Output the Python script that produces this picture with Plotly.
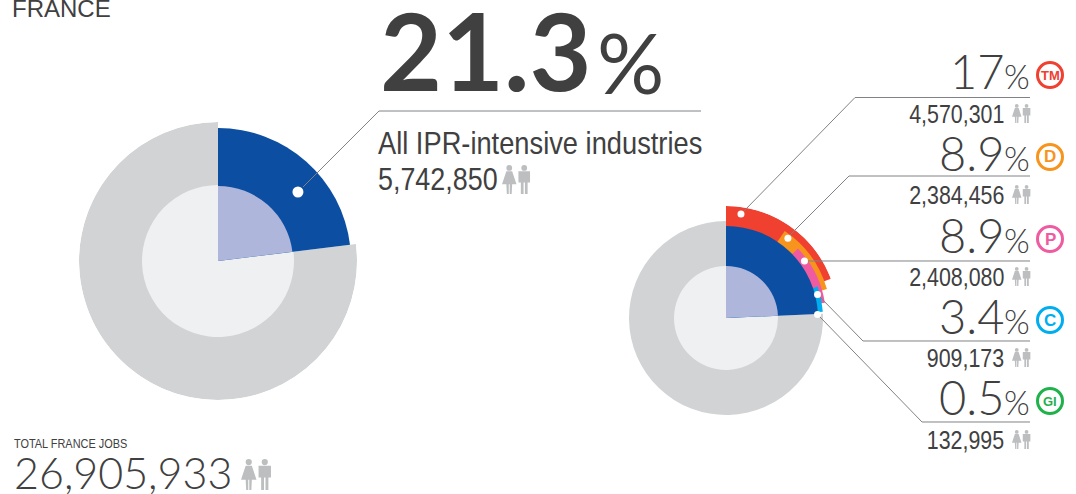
import plotly.graph_objects as go

W, H = 1076, 494

# ---- data ----
main_pct = "21.3"
main_label = "All IPR-intensive industries"
main_jobs = "5,742,850"
total_label = "TOTAL FRANCE JOBS"
total_jobs = "26,905,933"
country = "FRANCE"

categories = ["TM", "D", "P", "C", "GI"]
pcts = ["17", "8.9", "8.9", "3.4", "0.5"]
jobs = ["4,570,301", "2,384,456", "2,408,080", "909,173", "132,995"]

left_sweep = 83
right_sweep = 87.5
wedge_start = [0, 34, 46, 71]
wedge_end = [69.5, 74, 81.3, 86.3]
wedge_outer = [112, 105, 100, 97]

dots_theta = [8.2, 37.8, 54, 75.6, 87.8]
dots_r = [105, 101, 97, 94.5, 91.6]

# ---- styles ----
GREY, LIGHT, BLUE, PALE = "#d1d3d4", "#eef0f2", "#0b4ea2", "#aeb6dc"
COLORS = ["#f04030", "#f7941d", "#ef5ba1", "#00aeef", "#1fb24b"]
INK, ICON, LINE = "#404041", "#bcbec0", "#808285"
NARROW = "Liberation Sans Narrow, Liberation Sans, Arial"
LIGHTF = "Lato"


def px(x):
    return x / W


def py(y):
    return 1 - y / H


def domain(cx, cy, r):
    return dict(x=[px(cx - r), px(cx + r)], y=[py(cy + r), py(cy - r)])


def sector(a, b, r, color, sub, base=0):
    return go.Barpolar(r=[r - base], base=[base], theta=[(a + b) / 2], width=[b - a],
                       marker=dict(color=color, line=dict(width=0)), subplot=sub,
                       hoverinfo="skip", showlegend=False)


fig = go.Figure()
# left disc
fig.add_trace(sector(left_sweep, 360, 139, GREY, "polar"))
fig.add_trace(sector(left_sweep, 360, 76, LIGHT, "polar"))
fig.add_trace(sector(0, left_sweep, 133, BLUE, "polar"))
fig.add_trace(sector(0, left_sweep, 75, PALE, "polar"))
fig.add_trace(go.Scatterpolar(r=[105.6], theta=[49.2], mode="markers", subplot="polar",
                              marker=dict(color="white", size=11), hoverinfo="skip", showlegend=False))
# right disc
fig.add_trace(sector(right_sweep, 360, 97, GREY, "polar2"))
fig.add_trace(sector(right_sweep, 360, 52, LIGHT, "polar2"))
for a, b, r, c in zip(wedge_start, wedge_end, wedge_outer, COLORS):
    fig.add_trace(sector(a, b, r, c, "polar2"))
fig.add_trace(sector(0, right_sweep, 92, BLUE, "polar2"))
fig.add_trace(sector(0, right_sweep, 52, PALE, "polar2"))
fig.add_trace(go.Scatterpolar(r=dots_r, theta=dots_theta, mode="markers", subplot="polar2",
                              marker=dict(color="white", size=7), hoverinfo="skip", showlegend=False))

polar_common = dict(
    bgcolor="rgba(0,0,0,0)", barmode="overlay",
    angularaxis=dict(visible=False, direction="clockwise", rotation=90),
)
annotations, shapes = [], []


def text(x, y, s, size, anchor="left", family=NARROW, color=INK, weight=None):
    f = dict(size=size, family=family, color=color)
    if weight:
        f["weight"] = weight
    annotations.append(dict(x=px(x), y=py(y), xref="paper", yref="paper", text=s, showarrow=False,
                            xanchor=anchor, yanchor="middle", font=f, borderpad=0, borderwidth=0))


def polyline(points, color=LINE, width=1):
    path = "M " + " L ".join(f"{px(x):.5f} {py(y):.5f}" for x, y in points)
    shapes.append(dict(type="path", path=path, xref="paper", yref="paper",
                       line=dict(color=color, width=width)))


def poly(points, color=ICON):
    path = "M " + " L ".join(f"{px(x):.5f} {py(y):.5f}" for x, y in points) + " Z"
    shapes.append(dict(type="path", path=path, xref="paper", yref="paper", fillcolor=color,
                       line=dict(width=0)))


def disc(cx, cy, r, fill=ICON, line=None, lw=0):
    shapes.append(dict(type="circle", xref="paper", yref="paper", x0=px(cx - r), x1=px(cx + r),
                       y0=py(cy + r), y1=py(cy - r), fillcolor=fill,
                       line=dict(color=line or fill, width=lw)))


def people(x, y, h):
    """Woman + man pictogram; x,y top-left, h height in px."""
    u = h / 30
    # woman
    disc(x + 7.5 * u, y + 3 * u, 3 * u)
    poly([(x + 4.5 * u, y + 6.5 * u), (x + 10.5 * u, y + 6.5 * u), (x + 15 * u, y + 20 * u),
          (x + 10.5 * u, y + 20 * u), (x + 10 * u, y + 30 * u), (x + 8 * u, y + 30 * u),
          (x + 8 * u, y + 20 * u), (x + 7 * u, y + 20 * u), (x + 7 * u, y + 30 * u),
          (x + 5 * u, y + 30 * u), (x + 4.5 * u, y + 20 * u), (x + 0 * u, y + 20 * u)])
    # man
    disc(x + 23 * u, y + 3 * u, 3 * u)
    poly([(x + 17 * u, y + 6.5 * u), (x + 29 * u, y + 6.5 * u), (x + 29 * u, y + 18 * u),
          (x + 26.5 * u, y + 18 * u), (x + 26.5 * u, y + 30 * u), (x + 23.7 * u, y + 30 * u),
          (x + 23.7 * u, y + 18 * u), (x + 22.3 * u, y + 18 * u), (x + 22.3 * u, y + 30 * u),
          (x + 19.5 * u, y + 30 * u), (x + 19.5 * u, y + 18 * u), (x + 17 * u, y + 18 * u)])


# left block
text(12, 8, country, 24, family="Liberation Sans")
text(380, 50, main_pct, 107, family="Lato", weight=700)
text(597, 62, "%", 84, family=LIGHTF, weight=400)
polyline([(303, 187), (379, 111), (701, 111)])
text(378, 143, main_label, 32)
text(378, 179, main_jobs, 32)
people(502, 165, 29)
text(14, 443, total_label, 13)
text(14, 472, total_jobs, 43, family=LIGHTF, weight=300)
people(241, 459, 31)

# right block
row_y = [75, 157, 239, 320, 401]
jobs_y = [114, 195, 277, 358, 440]
leaders = [[(744, 211), (855, 97.5), (1030, 97.5)],
           [(790, 235), (849, 176), (1030, 176)],
           [(808, 261), (1030, 261)],
           [(820, 297), (863, 341), (1030, 341)],
           [(820, 317), (922, 422), (1030, 422)]]
for i, cat in enumerate(categories):
    text(1005, row_y[i] - 4, pcts[i], 47, anchor="right", family=LIGHTF, weight=300)
    text(1030, row_y[i] + 1, "%", 33, anchor="right", family=LIGHTF, weight=300)
    polyline(leaders[i])
    text(1004, jobs_y[i], jobs[i], 25.5, anchor="right")
    people(1012, jobs_y[i] - 10, 19)
    disc(1050, row_y[i], 12.5, fill="white", line=COLORS[i], lw=3)
    text(1050, row_y[i], f"<b>{cat}</b>", 13 if len(cat) > 1 else 17, anchor="center",
         family="Liberation Sans", color=COLORS[i])

fig.update_layout(
    width=W, height=H, margin=dict(l=0, r=0, t=0, b=0), autosize=False,
    paper_bgcolor="white", plot_bgcolor="white", showlegend=False,
    polar=dict(domain=domain(218, 261, 139), radialaxis=dict(visible=False, range=[0, 139]), **polar_common),
    polar2=dict(domain=domain(726, 318, 112), radialaxis=dict(visible=False, range=[0, 112]), **polar_common),
    annotations=annotations, shapes=shapes,
)

# The reference's labels are set in a condensed sans: condense the real text in place.
condense = """
document.body.style.margin='0';document.body.style.overflow='hidden';
document.querySelectorAll('.annotation-text').forEach(function(t){
  if ((t.style.fontFamily||'').indexOf('Narrow')<0) return;
  var L=t.getComputedTextLength(), x=parseFloat(t.getAttribute('x'));
  var right=t.getBoundingClientRect().left>600;
  var k=t.textContent.indexOf('All')===0?0.852:0.84;
  var nx=right?x+L/2-L*k:x-L/2;
  t.setAttribute('x',nx);t.setAttribute('text-anchor','start');
  t.setAttribute('lengthAdjust','spacingAndGlyphs');
  t.setAttribute('textLength',L*k);
});
"""
fig.write_html("out.html", config={"displayModeBar": False}, post_script=condense)
